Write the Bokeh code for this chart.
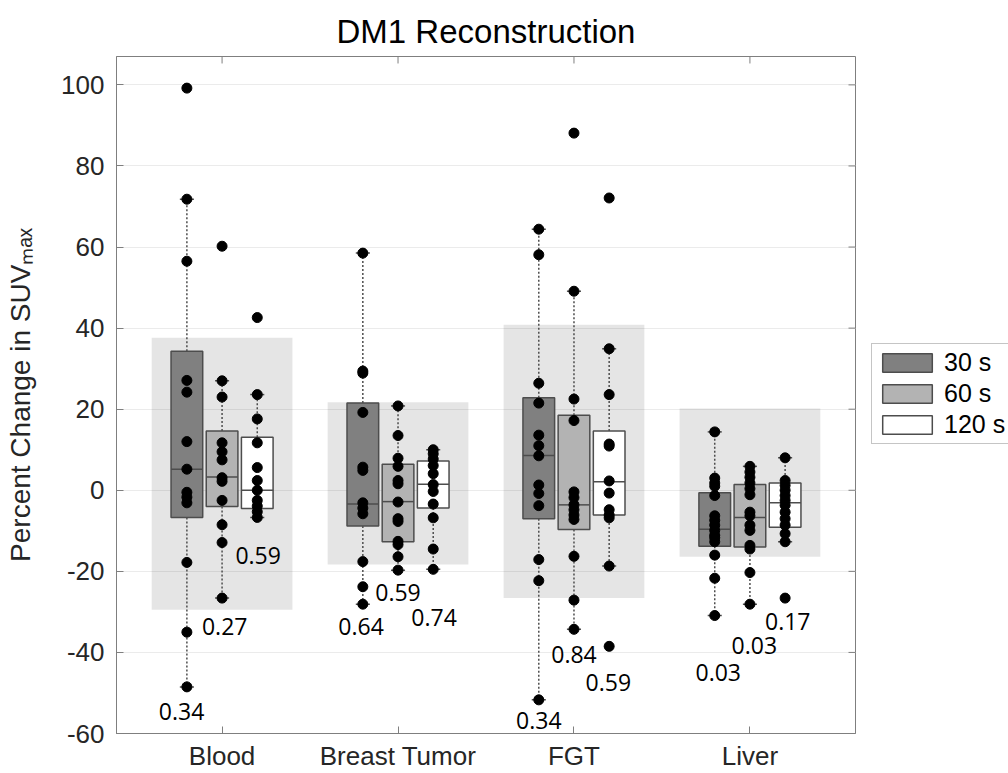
import numpy as np
from bokeh.plotting import figure
from bokeh.layouts import row
from bokeh.models import (ColumnDataSource, FixedTicker, Range1d, Legend, LegendItem)
from bokeh.core.properties import value
from bokeh.embed import file_html
from bokeh.resources import INLINE

# ---------------- data ----------------
categories = ["Blood", "Breast Tumor", "FGT", "Liver"]
series = ["30 s", "60 s", "120 s"]

# individual points per organ / scan duration
pts_blood_30 = [99.2, 71.8, 56.5, 27.1, 24.2, 12.0, 5.2, -0.5, -1.7, -3.1, -17.8, -35.0, -48.5]
pts_blood_60 = [60.2, 27.0, 23.0, 11.7, 9.5, 7.5, 3.1, 2.2, -2.5, -8.5, -12.9, -26.6]
pts_blood_120 = [42.6, 23.6, 17.6, 11.7, 5.6, 2.4, 0.0, -2.5, -3.9, -5.3, -6.7]
pts_breast_30 = [58.5, 29.4, 28.9, 19.2, 5.7, 4.9, -3.1, -4.4, -5.8, -17.6, -23.8, -28.1]
pts_breast_60 = [20.8, 13.5, 7.9, 5.9, 2.4, 1.6, -2.9, -7.0, -7.7, -12.6, -13.4, -16.4, -19.7]
pts_breast_120 = [10.0, 9.0, 7.7, 6.1, 4.1, 1.4, -0.3, -3.4, -6.8, -14.5, -19.5]
pts_fgt_30 = [64.4, 58.1, 26.4, 21.5, 13.6, 11.0, 8.5, 1.3, -0.8, -3.8, -17.1, -22.3, -51.7]
pts_fgt_60 = [88.1, 49.1, 22.5, 17.2, -0.4, -1.8, -3.6, -4.8, -6.1, -7.2, -16.3, -27.1, -34.3]
pts_fgt_120 = [72.1, 34.9, 23.6, 11.4, 10.9, 2.3, -0.7, -4.8, -6.1, -6.8, -18.7, -38.5]
pts_liver_30 = [14.4, 3.0, 1.8, 1.0, -1.3, -6.3, -7.4, -8.6, -9.9, -11.1, -11.7, -12.7, -16.0, -21.7, -30.9]
pts_liver_60 = [5.9, 4.5, 3.2, 1.8, 0.4, -1.1, -5.4, -6.3, -8.6, -9.9, -13.6, -14.5, -20.3, -28.1]
pts_liver_120 = [8.0, 2.4, 1.2, 0.0, -1.3, -2.5, -3.7, -5.4, -7.0, -8.6, -10.7, -12.7, -26.6]

# box statistics per series (Blood, Breast Tumor, FGT, Liver)
q1_30s = [-6.7, -8.8, -7.0, -13.8]
med_30s = [5.2, -3.4, 8.6, -9.6]
q3_30s = [34.3, 21.5, 22.8, -0.6]
wlo_30s = [-48.5, -28.1, -51.7, -30.9]
whi_30s = [71.8, 58.5, 64.4, 14.4]

q1_60s = [-4.0, -12.7, -9.7, -14.0]
med_60s = [3.3, -2.8, -3.6, -6.7]
q3_60s = [14.6, 6.4, 18.5, 1.4]
wlo_60s = [-26.6, -19.7, -34.3, -28.1]
whi_60s = [27.0, 20.8, 49.1, 5.9]

q1_120s = [-4.5, -4.4, -6.1, -9.1]
med_120s = [0.0, 1.5, 2.1, -3.1]
q3_120s = [13.1, 7.2, 14.6, 1.8]
wlo_120s = [-6.7, -19.5, -18.7, -12.7]
whi_120s = [23.6, 10.0, 34.9, 8.0]

# shaded band per organ
band_low = [-29.5, -18.3, -26.6, -16.4]
band_high = [37.6, 21.7, 40.8, 20.2]

# p-values written under each box
p_30s = ["0.34", "0.64", "0.34", "0.03"]
p_60s = ["0.27", "0.59", "0.84", "0.03"]
p_120s = ["0.59", "0.74", "0.59", "0.17"]

y_ticks = [-60, -40, -20, 0, 20, 40, 60, 80, 100]

# ---------------- layout / style (not data) ----------------
W, H = 871, 773          # main plot
LW = 1008 - W            # legend strip
ML, MR, MT, MB = 116, 16, 56, 37
XR = (0.4, 4.6)
YR = (-60, 107)
offsets = [-0.2, 0.0, 0.2]
box_w = 0.18
band_half = 0.4
cap_half = 0.04
fills = ["#808080", "#b3b3b3", "#ffffff"]
edge = "#4d4d4d"
axis_col = "#7f7f7f"
tick_col = "#262626"
FONT = "Liberation Sans"
TICK_PX = 7

# placements of the p-value annotations
p_dx_30s = [-0.23, -0.21, -0.2, -0.18]
p_dx_60s = [0.015, 0.0, 0.0, 0.025]
p_dx_120s = [0.205, 0.205, 0.195, 0.215]
p_y_30s = [-54.5, -33.7, -56.8, -44.9]
p_y_60s = [-33.5, -25.1, -40.4, -38.3]
p_y_120s = [-16.0, -31.3, -47.3, -32.4]

points = [
    [pts_blood_30, pts_blood_60, pts_blood_120],
    [pts_breast_30, pts_breast_60, pts_breast_120],
    [pts_fgt_30, pts_fgt_60, pts_fgt_120],
    [pts_liver_30, pts_liver_60, pts_liver_120],
]
stats = [
    (q1_30s, med_30s, q3_30s, wlo_30s, whi_30s),
    (q1_60s, med_60s, q3_60s, wlo_60s, whi_60s),
    (q1_120s, med_120s, q3_120s, wlo_120s, whi_120s),
]
pvals = [p_30s, p_60s, p_120s]
p_dx = [p_dx_30s, p_dx_60s, p_dx_120s]
p_y = [p_y_30s, p_y_60s, p_y_120s]

cat_x = np.arange(1, len(categories) + 1)

p = figure(width=W, height=H, x_range=Range1d(*XR), y_range=Range1d(*YR),
           output_backend="svg", toolbar_location=None,
           min_border_left=ML, min_border_right=MR, min_border_top=MT, min_border_bottom=MB)

p.title.text = "DM1 Reconstruction"
p.title.text_font = FONT
p.title.text_font_size = "33px"
p.title.text_font_style = "normal"
p.title.text_color = "#000000"
p.title.align = "center"
p.title.standoff = 14

p.background_fill_color = "white"
p.border_fill_color = "white"
p.outline_line_color = axis_col
p.outline_line_width = 1

# grid
p.xgrid.visible = False
p.ygrid.ticker = FixedTicker(ticks=y_ticks)
p.ygrid.grid_line_color = "#ebebeb"
p.ygrid.grid_line_width = 1

# axes
for ax in (p.xaxis[0], p.yaxis[0]):
    ax.axis_line_color = axis_col
    ax.major_tick_line_color = axis_col
    ax.minor_tick_line_color = None
    ax.major_tick_in = TICK_PX
    ax.major_tick_out = 0
p.yaxis.ticker = FixedTicker(ticks=y_ticks)
p.yaxis.major_label_overrides = {t: str(t) for t in y_ticks}
p.yaxis.major_label_text_font = FONT
p.yaxis.major_label_text_font_size = "26px"
p.yaxis.major_label_text_color = tick_col
p.yaxis.major_label_standoff = 12
p.yaxis.axis_label = "Percent Change in SUV\u2098\u2090\u2093"
p.yaxis.axis_label_text_font = FONT
p.yaxis.axis_label_text_font_size = "28px"
p.yaxis.axis_label_text_font_style = "normal"
p.yaxis.axis_label_text_color = tick_col
p.yaxis.axis_label_standoff = 22

p.xaxis.ticker = FixedTicker(ticks=list(cat_x))
p.xaxis.major_label_overrides = {int(x): c for x, c in zip(cat_x, categories)}
p.xaxis.major_label_text_font = FONT
p.xaxis.major_label_text_font_size = "26px"
p.xaxis.major_label_text_color = tick_col
p.xaxis.major_label_standoff = 7

# inward tick marks on the top and right edges of the box
dx_tick = TICK_PX * (XR[1] - XR[0]) / (W - ML - MR)
dy_tick = TICK_PX * (YR[1] - YR[0]) / (H - MT - MB)
p.segment(x0=[XR[1] - dx_tick] * len(y_ticks), y0=y_ticks, x1=[XR[1]] * len(y_ticks), y1=y_ticks,
          line_color=axis_col, line_width=1)
p.segment(x0=cat_x, y0=[YR[1] - dy_tick] * len(cat_x), x1=cat_x, y1=[YR[1]] * len(cat_x),
          line_color=axis_col, line_width=1)

# shaded bands
p.quad(left=cat_x - band_half, right=cat_x + band_half, bottom=band_low, top=band_high,
       fill_color="#000000", fill_alpha=0.1, line_color=None)

for s, name in enumerate(series):
    q1, med, q3, wlo, whi = stats[s]
    xc = cat_x + offsets[s]
    p.segment(x0=xc, y0=q3, x1=xc, y1=whi, line_color=edge, line_width=1.5, line_dash="2 2")
    p.segment(x0=xc, y0=q1, x1=xc, y1=wlo, line_color=edge, line_width=1.5, line_dash="2 2")
    p.segment(x0=xc - cap_half, y0=whi, x1=xc + cap_half, y1=whi, line_color=edge, line_width=1.5)
    p.segment(x0=xc - cap_half, y0=wlo, x1=xc + cap_half, y1=wlo, line_color=edge, line_width=1.5)
    p.quad(left=xc - box_w / 2, right=xc + box_w / 2, bottom=q1, top=q3,
           fill_color=fills[s], line_color=edge, line_width=1.5)
    p.segment(x0=xc - box_w / 2, y0=med, x1=xc + box_w / 2, y1=med, line_color=edge, line_width=1.5)

# dots
for c in range(len(categories)):
    for s in range(len(series)):
        vals = points[c][s]
        p.scatter(x=[cat_x[c] + offsets[s]] * len(vals), y=vals, size=10,
                  fill_color="black", line_color="black")

# p-value annotations
for s in range(len(series)):
    src = ColumnDataSource(dict(x=cat_x + np.array(p_dx[s]), y=p_y[s], t=pvals[s]))
    p.text(x="x", y="y", text="t", source=src, text_font=value("Open Sans"),
           text_font_size="23px", text_color="black", text_align="center",
           text_baseline="middle")

# ---------------- legend strip ----------------
leg = figure(width=LW, height=H, x_range=Range1d(0, 1), y_range=Range1d(0, 1),
             output_backend="svg", toolbar_location=None,
             x_axis_location=None, y_axis_location=None,
             min_border_left=0, min_border_right=0, min_border_top=0, min_border_bottom=0)
leg.outline_line_color = None
leg.xgrid.visible = False
leg.ygrid.visible = False
leg.background_fill_color = "white"
leg.border_fill_color = "white"
items = []
for s, name in enumerate(series):
    # legend-only renderer: one empty (NaN) row so the swatch can be drawn
    r = leg.quad(left=[np.nan], right=[np.nan], bottom=[np.nan], top=[np.nan],
                 fill_color=fills[s], line_color=edge, line_width=1.5)
    items.append(LegendItem(label=name, renderers=[r]))
legend = Legend(items=items, location=(0, 289))
legend.border_line_color = "#8c8c8c"
legend.border_line_width = 1
legend.background_fill_color = "white"
legend.background_fill_alpha = 1
legend.padding = 4
legend.spacing = 2
legend.margin = 0
legend.glyph_width = 62
legend.glyph_height = 23
legend.label_height = 23
legend.label_standoff = 6
legend.label_text_font = FONT
legend.label_text_font_size = "25px"
legend.label_text_color = "#000000"
legend.label_text_baseline = "middle"
leg.add_layout(legend, "center")

layout = row(p, leg, spacing=0)
open("out.html", "w").write(file_html(layout, INLINE))
